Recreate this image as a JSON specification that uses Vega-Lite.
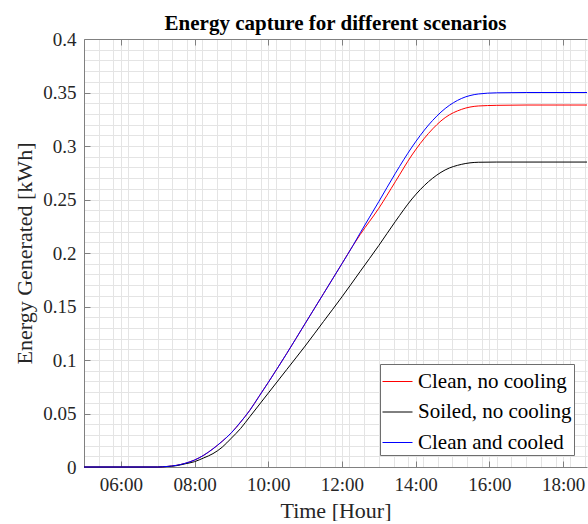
{
  "$schema": "https://vega.github.io/schema/vega-lite/v6.json",
  "width": 503,
  "height": 428,
  "padding": {"left": 13, "top": 13, "right": 0, "bottom": 0},
  "background": "white",
  "title": {"text": "Energy capture for different scenarios", "font": "Liberation Serif", "fontSize": 21, "fontWeight": "bold", "color": "#000000", "offset": -4, "anchor": "middle"},
  "config": {
    "view": {"stroke": null},
    "axis": {"labelFont": "Liberation Serif", "titleFont": "Liberation Serif", "labelFontSize": 19, "titleFontSize": 22, "labelColor": "#262626", "titleColor": "#262626", "titleFontWeight": "normal", "domainColor": "#808080", "tickColor": "#808080"}
  },
  "data": {"values": [
    {"s": "Clean, no cooling", "h": 5, "v": 0},
    {"s": "Clean, no cooling", "h": 7, "v": 0},
    {"s": "Clean, no cooling", "h": 7.25, "v": 0.0005},
    {"s": "Clean, no cooling", "h": 7.5, "v": 0.0015},
    {"s": "Clean, no cooling", "h": 7.75, "v": 0.0035},
    {"s": "Clean, no cooling", "h": 8, "v": 0.0065},
    {"s": "Clean, no cooling", "h": 8.25, "v": 0.011},
    {"s": "Clean, no cooling", "h": 8.5, "v": 0.017},
    {"s": "Clean, no cooling", "h": 8.75, "v": 0.024},
    {"s": "Clean, no cooling", "h": 9, "v": 0.032},
    {"s": "Clean, no cooling", "h": 9.25, "v": 0.042},
    {"s": "Clean, no cooling", "h": 9.5, "v": 0.053},
    {"s": "Clean, no cooling", "h": 9.75, "v": 0.066},
    {"s": "Clean, no cooling", "h": 10, "v": 0.079},
    {"s": "Clean, no cooling", "h": 10.5, "v": 0.106},
    {"s": "Clean, no cooling", "h": 11, "v": 0.134},
    {"s": "Clean, no cooling", "h": 11.5, "v": 0.162},
    {"s": "Clean, no cooling", "h": 12, "v": 0.19},
    {"s": "Clean, no cooling", "h": 12.3, "v": 0.207},
    {"s": "Clean, no cooling", "h": 12.5, "v": 0.2175},
    {"s": "Clean, no cooling", "h": 13, "v": 0.2418},
    {"s": "Clean, no cooling", "h": 13.45, "v": 0.2667},
    {"s": "Clean, no cooling", "h": 13.9, "v": 0.2916},
    {"s": "Clean, no cooling", "h": 14.35, "v": 0.3118},
    {"s": "Clean, no cooling", "h": 14.8, "v": 0.3265},
    {"s": "Clean, no cooling", "h": 15.25, "v": 0.3343},
    {"s": "Clean, no cooling", "h": 15.7, "v": 0.3374},
    {"s": "Clean, no cooling", "h": 16.2, "v": 0.338},
    {"s": "Clean, no cooling", "h": 17, "v": 0.3383},
    {"s": "Clean, no cooling", "h": 18.65, "v": 0.3383},
    {"s": "Soiled, no cooling", "h": 5, "v": 0},
    {"s": "Soiled, no cooling", "h": 7, "v": 0},
    {"s": "Soiled, no cooling", "h": 7.25, "v": 0.0004},
    {"s": "Soiled, no cooling", "h": 7.5, "v": 0.0012},
    {"s": "Soiled, no cooling", "h": 7.75, "v": 0.003},
    {"s": "Soiled, no cooling", "h": 8, "v": 0.005},
    {"s": "Soiled, no cooling", "h": 8.25, "v": 0.0085},
    {"s": "Soiled, no cooling", "h": 8.5, "v": 0.0125},
    {"s": "Soiled, no cooling", "h": 8.75, "v": 0.0185},
    {"s": "Soiled, no cooling", "h": 9, "v": 0.027},
    {"s": "Soiled, no cooling", "h": 9.25, "v": 0.036},
    {"s": "Soiled, no cooling", "h": 9.5, "v": 0.047},
    {"s": "Soiled, no cooling", "h": 9.75, "v": 0.058},
    {"s": "Soiled, no cooling", "h": 10, "v": 0.069},
    {"s": "Soiled, no cooling", "h": 10.5, "v": 0.091},
    {"s": "Soiled, no cooling", "h": 11, "v": 0.113},
    {"s": "Soiled, no cooling", "h": 11.5, "v": 0.136},
    {"s": "Soiled, no cooling", "h": 12, "v": 0.159},
    {"s": "Soiled, no cooling", "h": 12.5, "v": 0.183},
    {"s": "Soiled, no cooling", "h": 13, "v": 0.207},
    {"s": "Soiled, no cooling", "h": 13.45, "v": 0.2295},
    {"s": "Soiled, no cooling", "h": 13.9, "v": 0.2505},
    {"s": "Soiled, no cooling", "h": 14.35, "v": 0.2667},
    {"s": "Soiled, no cooling", "h": 14.8, "v": 0.2776},
    {"s": "Soiled, no cooling", "h": 15.25, "v": 0.2829},
    {"s": "Soiled, no cooling", "h": 15.7, "v": 0.2848},
    {"s": "Soiled, no cooling", "h": 16.2, "v": 0.285},
    {"s": "Soiled, no cooling", "h": 18.65, "v": 0.285},
    {"s": "Clean and cooled", "h": 5, "v": 0},
    {"s": "Clean and cooled", "h": 7, "v": 0},
    {"s": "Clean and cooled", "h": 7.25, "v": 0.0005},
    {"s": "Clean and cooled", "h": 7.5, "v": 0.0015},
    {"s": "Clean and cooled", "h": 7.75, "v": 0.0035},
    {"s": "Clean and cooled", "h": 8, "v": 0.0065},
    {"s": "Clean and cooled", "h": 8.25, "v": 0.011},
    {"s": "Clean and cooled", "h": 8.5, "v": 0.017},
    {"s": "Clean and cooled", "h": 8.75, "v": 0.024},
    {"s": "Clean and cooled", "h": 9, "v": 0.032},
    {"s": "Clean and cooled", "h": 9.25, "v": 0.042},
    {"s": "Clean and cooled", "h": 9.5, "v": 0.053},
    {"s": "Clean and cooled", "h": 9.75, "v": 0.066},
    {"s": "Clean and cooled", "h": 10, "v": 0.079},
    {"s": "Clean and cooled", "h": 10.5, "v": 0.106},
    {"s": "Clean and cooled", "h": 11, "v": 0.134},
    {"s": "Clean and cooled", "h": 11.5, "v": 0.162},
    {"s": "Clean and cooled", "h": 12, "v": 0.19},
    {"s": "Clean and cooled", "h": 12.3, "v": 0.207},
    {"s": "Clean and cooled", "h": 12.5, "v": 0.219},
    {"s": "Clean and cooled", "h": 13, "v": 0.248},
    {"s": "Clean and cooled", "h": 13.45, "v": 0.2745},
    {"s": "Clean and cooled", "h": 13.9, "v": 0.299},
    {"s": "Clean and cooled", "h": 14.35, "v": 0.3196},
    {"s": "Clean and cooled", "h": 14.8, "v": 0.335},
    {"s": "Clean and cooled", "h": 15.25, "v": 0.3445},
    {"s": "Clean and cooled", "h": 15.7, "v": 0.3486},
    {"s": "Clean and cooled", "h": 16.2, "v": 0.3497},
    {"s": "Clean and cooled", "h": 17, "v": 0.35},
    {"s": "Clean and cooled", "h": 18.65, "v": 0.35}
  ]},
  "layer": [
    {
      "mark": {"type": "line", "opacity": 0},
      "encoding": {
        "x": {"field": "h", "type": "quantitative", "scale": {"domain": [5, 18.65], "nice": false, "zero": false},
          "axis": {"orient": "top", "values": [5.4,5.8,6,6.2,6.6,7,7.4,7.8,8,8.2,8.6,9,9.4,9.8,10,10.2,10.6,11,11.4,11.8,12,12.2,12.6,13,13.4,13.8,14,14.2,14.6,15,15.4,15.8,16,16.2,16.6,17,17.4,17.8,18,18.2,18.6], "grid": true, "gridColor": "#e4e4e4", "gridWidth": 1, "labels": false, "ticks": false, "domain": false, "title": null}},
        "y": {"field": "v", "type": "quantitative", "scale": {"domain": [0, 0.4], "nice": false},
          "axis": {"orient": "right", "values": [0.01,0.02,0.03,0.04,0.05,0.06,0.07,0.08,0.09,0.1,0.11,0.12,0.13,0.14,0.15,0.16,0.17,0.18,0.19,0.2,0.21,0.22,0.23,0.24,0.25,0.26,0.27,0.28,0.29,0.3,0.31,0.32,0.33,0.34,0.35,0.36,0.37,0.38,0.39], "grid": true, "gridColor": "#e4e4e4", "gridWidth": 1, "labels": false, "ticks": false, "domain": false, "title": null}}
      }
    },
    {
      "mark": {"type": "line", "opacity": 0},
      "encoding": {
        "x": {"field": "h", "type": "quantitative",
          "axis": {"orient": "top", "values": [6,8,10,12,14,16,18], "grid": false, "labels": false, "ticks": true, "tickSize": -6, "domain": true, "title": null}},
        "y": {"field": "v", "type": "quantitative", "axis": null}
      }
    },
    {
      "mark": {"type": "line", "strokeWidth": 1, "interpolate": "monotone"},
      "encoding": {
        "x": {"field": "h", "type": "quantitative",
          "axis": {"orient": "bottom", "values": [6,8,10,12,14,16,18], "labelExpr": "(datum.value < 10 ? '0' : '') + datum.value + ':00'", "grid": false, "tickSize": -6, "labelPadding": 14, "title": "Time [Hour]", "titlePadding": 6}},
        "y": {"field": "v", "type": "quantitative",
          "axis": {"orient": "left", "values": [0,0.05,0.1,0.15,0.2,0.25,0.3,0.35,0.4], "format": "~g", "grid": false, "tickSize": -6, "labelPadding": 14, "title": "Energy Generated [kWh]", "titlePadding": 6}},
        "color": {"field": "s", "type": "nominal",
          "scale": {"domain": ["Clean, no cooling", "Soiled, no cooling", "Clean and cooled"], "range": ["#ff0000", "#000000", "#0000ff"]},
          "legend": {"title": null, "orient": "none", "legendX": 296, "legendY": 325, "symbolType": "stroke", "symbolSize": 900, "symbolStrokeWidth": 1, "labelFont": "Liberation Serif", "labelFontSize": 21, "labelColor": "#000000", "labelOffset": 5, "padding": 2, "rowPadding": 4.5, "strokeColor": "#6e6e6e", "fillColor": "#ffffff", "cornerRadius": 0, "labelLimit": 400}}
      }
    }
  ],
  "resolve": {"axis": {"x": "independent", "y": "independent"}}
}
